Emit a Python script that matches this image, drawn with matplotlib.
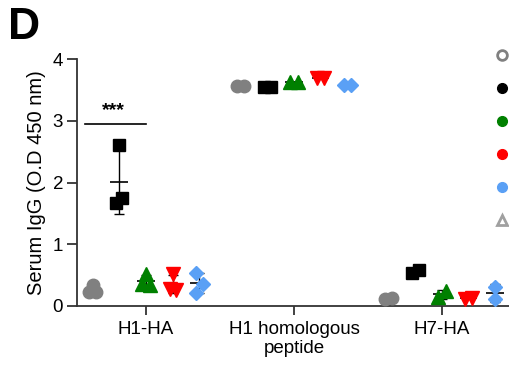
import numpy as np
import matplotlib
matplotlib.use("Agg")
from matplotlib import pyplot as plt
from matplotlib.lines import Line2D

plt.rcParams['font.family'] = ['Liberation Sans', 'DejaVu Sans']

# Data
groups = ["H1-HA", "H1 homologous\npeptide", "H7-HA"]

gray_vals = [[0.34, 0.23, 0.22], [3.57, 3.57], [0.11, 0.13]]
black_vals = [[2.60, 1.67, 1.75], [3.54, 3.54], [0.53, 0.58]]
green_vals = [[0.52, 0.35, 0.34], [3.62, 3.62], [0.14, 0.24]]
red_vals = [[0.52, 0.27, 0.26], [3.70, 3.70], [0.12, 0.13]]
blue_vals = [[0.53, 0.36, 0.21], [3.58, 3.58], [0.31, 0.11]]

all_series = [gray_vals, black_vals, green_vals, red_vals, blue_vals]
colors = ["#808080", "#000000", "#008000", "#ff0000", "#5aa0f5"]
markers = ["o", "s", "^", "v", "D"]
msizes = [9, 8, 9.5, 9.5, 7]

# small horizontal scatter of the dots within each column
jitter3 = [[0, -0.025, 0.025], [0, -0.022, 0.02], [0, -0.025, 0.025],
           [0, -0.02, 0.02], [-0.025, 0.022, -0.025]]
spread2 = [-0.025, 0.025]

offsets = np.array([-0.36, -0.18, 0.0, 0.18, 0.36])

fig = plt.figure(figsize=(5.09, 3.67), dpi=100)
ax = fig.add_axes([77/509, 1 - 306/367, 432/509, 247/367])

for s, vals in enumerate(all_series):
    for g, pts in enumerate(vals):
        xc = g + offsets[s]
        if len(pts) == 3:
            jit = jitter3[s]
        elif s == 4 and g == 2:
            jit = [0, 0]   # stacked vertically in the original
        else:
            jit = spread2
        xs = [xc + j for j in jit]
        ax.plot(xs, pts, linestyle='none', marker=markers[s], ms=msizes[s],
                color=colors[s], mec=colors[s], zorder=3, clip_on=False)
        m = np.mean(pts)
        sd = np.std(pts, ddof=1)
        ax.errorbar(xc, m, yerr=sd, fmt='none', ecolor='black', elinewidth=1,
                    capsize=3.5, capthick=1, zorder=2)
        ax.hlines(m, xc - 0.06, xc + 0.06, color='black', lw=1.2, zorder=2)

# significance bar
ax.plot([-0.41, 0.0], [2.94, 2.94], color='black', lw=1.2)
ax.text(-0.22, 3.03, "***", ha='center', va='bottom', fontsize=14, fontweight='bold')

ax.set_xlim(-0.466, 2.453)
ax.set_ylim(0, 4)
ax.set_xticks(range(len(groups)))
ax.set_xticklabels(groups, fontsize=13.5, linespacing=1.15)
ax.set_yticks([0, 1, 2, 3, 4])
ax.tick_params(axis='y', labelsize=13.5, length=7, width=1.3, pad=3, color='#333333')
ax.tick_params(axis='x', length=6.5, width=1.3, pad=4, color='#333333')
ax.set_ylabel("Serum IgG (O.D 450 nm)", fontsize=14.5, labelpad=5)

for sp in ['top', 'right']:
    ax.spines[sp].set_visible(False)
for sp in ['left', 'bottom']:
    ax.spines[sp].set_linewidth(1.3)
    ax.spines[sp].set_color('#333333')

# legend markers (labels fall outside the crop)
handles = [Line2D([], [], ls='none', marker='o', ms=7, mfc='white', mec='#808080', mew=2),
           Line2D([], [], ls='none', marker='o', ms=7, color='black'),
           Line2D([], [], ls='none', marker='o', ms=7, color='#008000'),
           Line2D([], [], ls='none', marker='o', ms=7, color='#ff0000'),
           Line2D([], [], ls='none', marker='o', ms=7, color='#5aa0f5'),
           Line2D([], [], ls='none', marker='^', ms=7, mfc='white', mec='#a0a0a0', mew=2)]
fig.legend(handles, [""] * 6, loc='upper left', bbox_to_anchor=(495/509, 1 - 49/367),
           frameon=False, borderpad=0, borderaxespad=0, handlelength=1.0,
           handletextpad=0, labelspacing=1.37, fontsize=10)

fig.text(8/509, 1 - 7/367, "D", fontsize=32, fontweight='bold', ha='left', va='top')

plt.savefig("out.png", dpi=100)
